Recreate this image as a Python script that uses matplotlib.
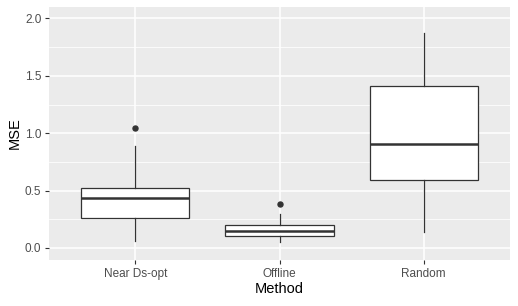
import matplotlib
matplotlib.use("Agg")
import matplotlib.pyplot as plt

methods = ["Near Ds-opt", "Offline", "Random"]
q1 = [0.259, 0.102, 0.590]
medians = [0.436, 0.151, 0.909]
q3 = [0.523, 0.198, 1.409]
whislo = [0.064, 0.050, 0.137]
whishi = [0.889, 0.296, 1.871]
outliers = [[1.043], [0.381], []]

plt.rcParams['font.family'] = ['Liberation Sans', 'DejaVu Sans']

fig = plt.figure(figsize=(5.18, 3.06), dpi=100)
ax = fig.add_axes([49/518, 46/306, 461/518, 253/306])
ax.set_facecolor('#EBEBEB')

stats = []
for i, m in enumerate(methods):
    stats.append(dict(label=m, q1=q1[i], med=medians[i], q3=q3[i],
                      whislo=whislo[i], whishi=whishi[i], fliers=outliers[i]))

positions = list(range(1, len(methods) + 1))
ax.bxp(stats, positions=positions, widths=0.75, patch_artist=True,
       showcaps=False,
       boxprops=dict(facecolor='white', edgecolor='#333333', linewidth=0.9),
       medianprops=dict(color='#333333', linewidth=1.8),
       whiskerprops=dict(color='#333333', linewidth=0.9),
       flierprops=dict(marker='o', markerfacecolor='#333333', markeredgecolor='#333333',
                       markersize=3.6),
       zorder=3)

ax.set_xlim(0.4, 3.6)
ax.set_ylim(-0.105, 2.1)
ax.set_yticks([0.0, 0.5, 1.0, 1.5, 2.0])
ax.set_yticklabels(["0.0", "0.5", "1.0", "1.5", "2.0"])
ax.set_yticks([0.25, 0.75, 1.25, 1.75], minor=True)
ax.set_xticks(positions)
ax.set_xticklabels(methods)

ax.grid(which='major', color='white', linewidth=1.1, zorder=0)
ax.grid(which='minor', axis='y', color='white', linewidth=0.55, zorder=0)
ax.set_axisbelow(True)
for s in ax.spines.values():
    s.set_visible(False)

ax.tick_params(axis='both', which='major', colors='#333333', labelcolor='#4D4D4D',
               labelsize=8.5, length=3, width=0.8, pad=2.5)
ax.tick_params(axis='y', which='minor', length=0)

ax.set_xlabel("Method", fontsize=10.5, color='black', labelpad=2)
ax.set_ylabel("MSE", fontsize=10.5, color='black', labelpad=2.5)

fig.savefig("out.png", dpi=100)
